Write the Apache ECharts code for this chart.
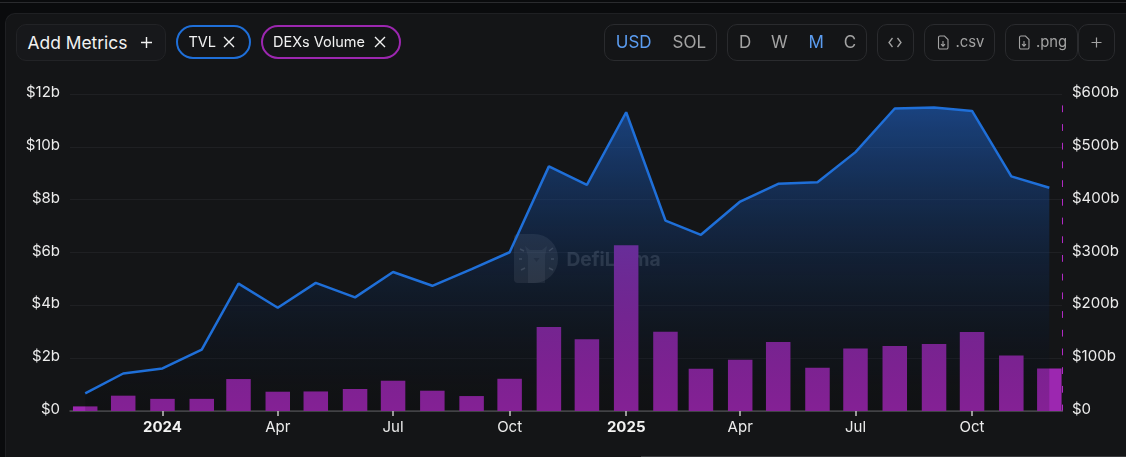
<!DOCTYPE html>
<html>
<head>
<meta charset="utf-8">
<title>TVL and DEXs Volume</title>
<script src="https://cdn.jsdelivr.net/npm/echarts@6/dist/echarts.min.js"></script>
<style>
  html, body { margin: 0; padding: 0; width: 1126px; height: 457px; overflow: hidden; background: #0a0b0d; font-family: Inter, sans-serif; }
  #topline { position: absolute; left: 0; top: 2px; width: 1126px; height: 1px; background: #2a2b2e; }
  #card { position: absolute; left: 5px; top: 13px; width: 1121px; height: 444px; background: #141517; border: 1px solid #1f2023; border-right: 0; border-bottom: 0; border-top-left-radius: 10px; box-sizing: border-box; }
  #chart { position: absolute; left: 0; top: 0; width: 1126px; height: 457px; }
  #footline { position: absolute; left: 641px; top: 456px; width: 485px; height: 1px; background: #3a3b3e; }
  .box { position: absolute; top: 24px; height: 37px; box-sizing: border-box; border: 1px solid #2a2b2e; border-radius: 10px; color: #a3a3a3; font-size: 17px; }
  .box span, .pill span { position: absolute; white-space: nowrap; line-height: 1; }
  .pill { position: absolute; top: 25px; height: 34px; box-sizing: border-box; border: 2px solid; border-radius: 17px; color: #f2f2f2; font-size: 14.5px; }
  .on { color: #5b9cf0; }
  svg { position: absolute; fill: none; stroke: currentColor; }
</style>
</head>
<body>
<div id="topline"></div>
<div id="card"></div>
<div id="chart"></div>
<div id="footline"></div>

<div class="box" style="left:16px;width:150px;color:#f2f2f2;font-size:17.4px;border-color:#222326;background:#17181b">
  <span style="left:10.500px;top:9px">Add Metrics</span>
  <svg style="left:123px;top:11px" width="13" height="13" stroke-width="1.4"><path d="M6.5 1v11M1 6.5h11"/></svg>
</div>
<div class="pill" style="left:176px;width:75px;border-color:#1f6fd8">
  <span style="left:10.500px;top:7.500px">TVL</span>
  <svg style="left:45px;top:8.500px" width="12" height="12" stroke-width="1.4"><path d="M1 1l10 10M11 1l-10 10"/></svg>
</div>
<div class="pill" style="left:261px;width:140px;border-color:#9c27b0">
  <span style="left:10px;top:7.500px">DEXs Volume</span>
  <svg style="left:111px;top:8.500px" width="12" height="12" stroke-width="1.4"><path d="M1 1l10 10M11 1l-10 10"/></svg>
</div>

<div class="box" style="left:604px;width:113px">
  <span class="on" style="left:10.800px;top:9px">USD</span>
  <span style="left:67.500px;top:9px">SOL</span>
</div>
<div class="box" style="left:727px;width:140px">
  <span style="left:11px;top:9px">D</span>
  <span style="left:43px;top:9px">W</span>
  <span class="on" style="left:80.600px;top:9px">M</span>
  <span style="left:115.800px;top:9px">C</span>
</div>
<div class="box" style="left:877px;width:37px">
  <svg style="left:10px;top:12px" width="14" height="11" stroke-width="1.3"><path d="M4.5 1L1 5.5 4.5 10M9.500 1L13 5.5 9.500 10"/></svg>
</div>
<div class="box" style="left:924px;width:71px;font-size:14.800px">
  <svg style="left:12px;top:10px" width="12" height="15" stroke-width="1.1"><path d="M1.500 2.500a1.500 1.500 0 0 1 1.500-1.500h4.500l3.500 3.500v8a1.500 1.500 0 0 1-1.500 1.500h-6.500a1.500 1.500 0 0 1-1.500-1.500zM6 6v5M4 9.200l2 2 2-2"/></svg>
  <span style="left:30.500px;top:10px">.csv</span>
</div>
<div class="box" style="left:1005px;width:73px;font-size:14.800px">
  <svg style="left:12px;top:10px" width="12" height="15" stroke-width="1.1"><path d="M1.500 2.500a1.500 1.500 0 0 1 1.500-1.500h4.500l3.500 3.500v8a1.500 1.500 0 0 1-1.500 1.500h-6.500a1.500 1.500 0 0 1-1.500-1.500zM6 6v5M4 9.200l2 2 2-2"/></svg>
  <span style="left:30px;top:10px">.png</span>
</div>
<div class="box" style="left:1078px;width:37px">
  <svg style="left:12px;top:12px" width="11" height="11" stroke-width="1.2"><path d="M5.500 0.500v10M0.500 5.500h10"/></svg>
</div>

<script>
// Monthly samples, first of each month
const months = [
  '2023-11-01', '2023-12-01', '2024-01-01', '2024-02-01', '2024-03-01', '2024-04-01',
  '2024-05-01', '2024-06-01', '2024-07-01', '2024-08-01', '2024-09-01', '2024-10-01',
  '2024-11-01', '2024-12-01', '2025-01-01', '2025-02-01', '2025-03-01', '2025-04-01',
  '2025-05-01', '2025-06-01', '2025-07-01', '2025-08-01', '2025-09-01', '2025-10-01',
  '2025-11-01', '2025-12-01'
];
// Total value locked, $ billions
const tvl = [
  0.67, 1.42, 1.61, 2.32, 4.82, 3.91, 4.85, 4.30, 5.26, 4.74, 5.37, 6.01,
  9.26, 8.56, 11.31, 7.21, 6.67, 7.93, 8.60, 8.66, 9.80, 11.45, 11.49, 11.36,
  8.88, 8.45
];
// DEX volume, $ billions
const dexVolume = [
  8.7, 29, 23, 23, 60.5, 36.5, 37, 41.6, 57.3, 38.4, 28.3, 61,
  158.8, 136, 313.8, 150, 80, 97, 130.4, 82, 118.4, 123, 127, 149.3,
  105, 80.5
];
// Quarterly ticks along the date axis
const quarterTicks = [
  '2024-01-01', '2024-04-01', '2024-07-01', '2024-10-01',
  '2025-01-01', '2025-04-01', '2025-07-01', '2025-10-01'
];
const monthNames = ['Jan', 'Feb', 'Mar', 'Apr', 'May', 'Jun', 'Jul', 'Aug', 'Sep', 'Oct', 'Nov', 'Dec'];

// The date axis is a numeric axis in UTC milliseconds, so ticks can sit on exact quarters
const toMs = d => Date.parse(d + 'T00:00:00Z');
const tickTimes = quarterTicks.map(toMs);
const monthTimes = months.map(toMs);

const textColor = '#ececec';
const font = 'Inter, sans-serif';
// Value labels ride slightly above their gridlines
const valueLabel = {
  color: textColor,
  fontFamily: font,
  fontSize: 15,
  margin: 10,
  formatter: v => '{v|$' + (v === 0 ? '0' : v + 'b') + '}',
  rich: { v: { color: textColor, fontFamily: font, fontSize: 15, padding: [0, 0, 3, 0] } }
};
const rayStyle = { stroke: 'rgba(255,255,255,0.2)', lineWidth: 1.5 };

const chart = echarts.init(document.getElementById('chart'));
chart.setOption({
  animation: false,
  backgroundColor: 'transparent',
  grid: { left: 70, right: 64, top: 94, bottom: 46 },
  xAxis: {
    type: 'value',
    min: toMs('2023-10-20'),
    max: toMs('2025-12-11'),
    axisLine: { show: true, onZero: false, lineStyle: { color: '#4d4e52', width: 1.500 } },
    axisTick: { show: true, length: 5, customValues: tickTimes, lineStyle: { color: '#c4c4c4', width: 1.500 } },
    splitLine: { show: false },
    axisLabel: {
      customValues: tickTimes,
      margin: 9,
      hideOverlap: false,
      color: textColor,
      fontFamily: font,
      fontSize: 15,
      formatter: value => {
        const d = new Date(value);
        return d.getUTCMonth() === 0 ? '{year|' + d.getUTCFullYear() + '}' : monthNames[d.getUTCMonth()];
      },
      rich: { year: { fontWeight: 'bold', fontSize: 15, fontFamily: font, color: '#f2f2f2' } }
    }
  },
  yAxis: [
    {
      type: 'value',
      position: 'left',
      min: 0,
      max: 12,
      interval: 2,
      axisLine: { show: false },
      axisTick: { show: false },
      splitLine: { show: true, lineStyle: { color: '#1f2023', width: 1 } },
      axisLabel: valueLabel
    },
    {
      type: 'value',
      position: 'right',
      min: 0,
      max: 600,
      interval: 100,
      axisLine: { show: true, lineStyle: { color: '#b02ac4', width: 1, type: [6, 12.700] } },
      axisTick: { show: false },
      splitLine: { show: false },
      axisLabel: valueLabel
    }
  ],
  series: [
    {
      name: 'DEXs Volume',
      type: 'bar',
      yAxisIndex: 1,
      barWidth: 24.500,
      itemStyle: { color: '#9c27b0' },
      data: monthTimes.map((t, i) => [t, dexVolume[i]])
    },
    {
      name: 'TVL',
      type: 'line',
      yAxisIndex: 0,
      symbol: 'none',
      lineStyle: { color: '#1f6fd8', width: 2.500 },
      areaStyle: {
        color: new echarts.graphic.LinearGradient(0, 0, 0, 1, [
          { offset: 0, color: 'rgba(31,103,210,0.8)' },
          { offset: 1, color: 'rgba(0,0,0,0.22)' }
        ])
      },
      data: monthTimes.map((t, i) => [t, tvl[i]])
    }
  ],
  // Brand watermark, sitting under the marks
  graphic: [
    {
      type: 'group',
      x: 514,
      y: 234,
      z: 1,
      children: [
        { type: 'rect', z: 1, shape: { x: 0, y: 0, width: 44, height: 49, r: [4, 24, 24, 4] }, style: { fill: 'rgba(255,255,255,0.10)' } },
        { type: 'polygon', z: 1, shape: { points: [[14, 49], [14, 22], [11, 12], [16, 16], [28, 16], [33, 12], [31, 22], [31, 49]] }, style: { fill: 'rgba(255,255,255,0.08)' } },
        { type: 'polygon', z: 1, shape: { points: [[19.5, 24], [25.5, 24], [22.5, 28]] }, style: { fill: 'rgba(0,0,0,0.25)' } },
        { type: 'line', z: 1, shape: { x1: 6, y1: 15, x2: 10, y2: 17 }, style: rayStyle },
        { type: 'line', z: 1, shape: { x1: 39, y1: 14, x2: 35, y2: 17 }, style: rayStyle },
        { type: 'line', z: 1, shape: { x1: 5, y1: 25, x2: 8, y2: 25 }, style: rayStyle },
        { type: 'line', z: 1, shape: { x1: 37, y1: 25, x2: 40, y2: 25 }, style: rayStyle },
        { type: 'line', z: 1, shape: { x1: 7, y1: 36, x2: 11, y2: 34 }, style: rayStyle },
        { type: 'line', z: 1, shape: { x1: 39, y1: 36, x2: 35, y2: 34 }, style: rayStyle }
      ]
    },
    {
      type: 'text',
      x: 566.5,
      y: 251,
      z: 1,
      style: { text: 'DefiLlama', fill: 'rgba(255,255,255,0.17)', font: 'bold 19.2px Inter, sans-serif' }
    }
  ]
});
</script>
</body>
</html>
